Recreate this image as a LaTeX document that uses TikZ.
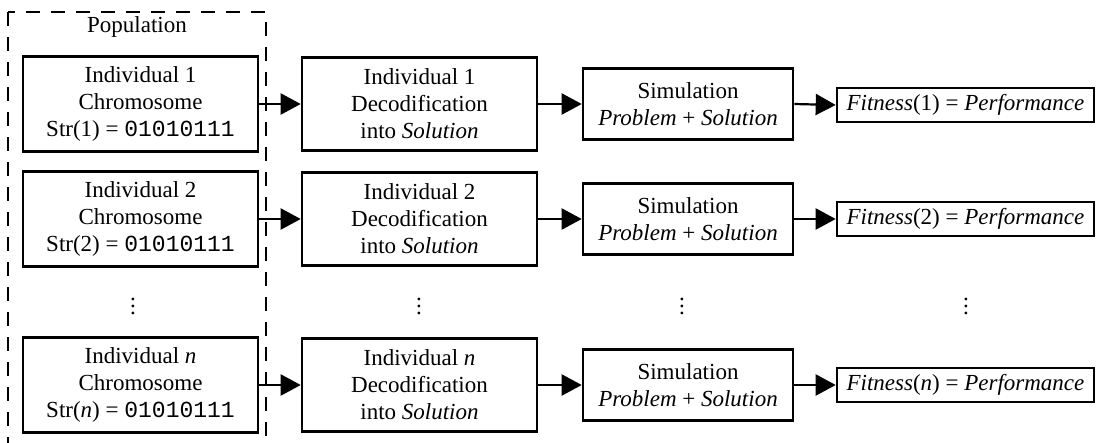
\documentclass[tikz,border=0pt]{standalone}
\usepackage{fontspec}
\setmainfont{Liberation Serif}
\setmonofont{Liberation Mono}
\usetikzlibrary{arrows.meta}
\newcommand{\myvdots}{\vbox{\baselineskip=7pt\lineskiplimit=0pt\hbox{.}\hbox{.}\hbox{.}}}
\begin{document}
\begin{tikzpicture}[x=1pt,y=-1pt,
  font=\fontsize{23}{27}\selectfont,
  blk/.style={draw,line width=2.6pt,align=center,inner sep=0pt},
  c1box/.style={blk,minimum width=235pt,minimum height=95pt},
  c2box/.style={blk,minimum width=235pt,minimum height=93pt},
  c3box/.style={blk,minimum width=210pt,minimum height=71pt},
  c4box/.style={blk,minimum width=257pt,minimum height=34pt},
  conn/.style={line width=2.2pt,-{Triangle[length=20pt,width=21pt]}},
  popbox/.style={draw,line width=1.4pt,dash pattern=on 14pt off 11pt},
  dotsnode/.style={inner sep=0pt}
  ]
\useasboundingbox (0,0) rectangle (1097,442);
\draw[popbox] (8,12) rectangle (266,470);
\node (pop) at (137,27) {Population};

% row 1
\node[c1box] (a1) at (140.5,104) {Individual 1\\Chromosome\\Str(1) = \texttt{01010111}};
\node[c2box] (b1) at (419.5,104) {Individual 1\\Decodification\\into \textit{Solution}};
\node[c3box] (s1) at (688,104) {Simulation\\\textit{Problem} + \textit{Solution}};
\node[c4box] (f1) at (965.5,105) {\textit{Fitness}(1) = \textit{Performance}};
% row 2
\node[c1box] (a2) at (140.5,219) {Individual 2\\Chromosome\\Str(2) = \texttt{01010111}};
\node[c2box] (b2) at (419.5,219) {Individual 2\\Decodification\\into \textit{Solution}};
\node[c3box] (s2) at (688,219) {Simulation\\\textit{Problem} + \textit{Solution}};
\node[c4box] (f2) at (965.5,219) {\textit{Fitness}(2) = \textit{Performance}};
% row 3
\node[c1box] (a3) at (140.5,385) {Individual \textit{n}\\Chromosome\\Str(\textit{n}) = \texttt{01010111}};
\node[c2box] (b3) at (419.5,385) {Individual \textit{n}\\Decodification\\into \textit{Solution}};
\node[c3box] (s3) at (688,385) {Simulation\\\textit{Problem} + \textit{Solution}};
\node[c4box] (f3) at (965.5,385) {\textit{Fitness}(\textit{n}) = \textit{Performance}};

% dots
\node[dotsnode] (d1) at (133,306) {\myvdots};
\node[dotsnode] (d2) at (419,306) {\myvdots};
\node[dotsnode] (d3) at (682,306) {\myvdots};
\node[dotsnode] (d4) at (966,306) {\myvdots};

\foreach \r in {1,2,3}{
  \draw[conn] (a\r.east) -- (b\r.west);
  \draw[conn] (b\r.east) -- (s\r.west);
  \draw[conn] (s\r.east) -- (f\r.west);
}
\end{tikzpicture}
\end{document}
